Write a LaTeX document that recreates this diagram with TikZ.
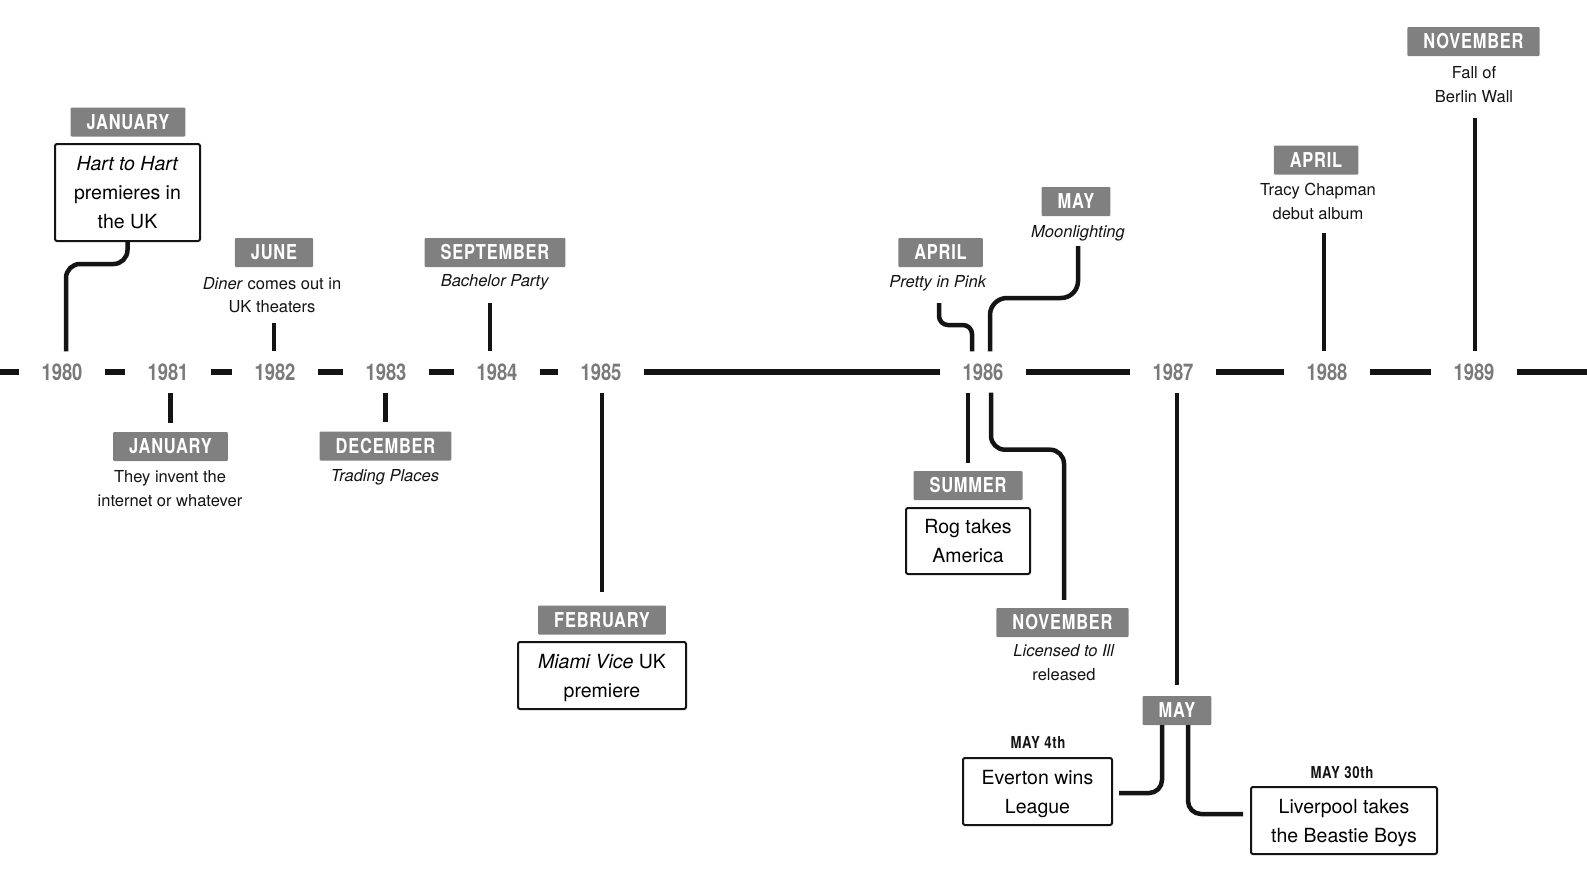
\documentclass[tikz,border=0pt]{standalone}
\usepackage{fontspec}
\setmainfont{TeX Gyre Heros}
\newfontfamily\labfont[FakeStretch=0.8,LetterSpace=4]{TeX Gyre Heros}
\newfontfamily\yrfont[FakeStretch=0.8]{TeX Gyre Heros}
\usetikzlibrary{calc}
\definecolor{labgray}{HTML}{808080}
\definecolor{yrgray}{HTML}{7A7A7A}
\definecolor{ink}{HTML}{141414}
\tikzset{
 yearnode/.style={font=\yrfont\bfseries\fontsize{23}{23}\selectfont, text=yrgray, inner xsep=22pt, inner ysep=0pt, minimum height=41pt},
 month/.style={fill=labgray, text=white, font=\labfont\bfseries\fontsize{20.5}{20.5}\selectfont, inner xsep=16pt, inner ysep=0pt, minimum height=29pt, rounded corners=1pt},
 evbox/.style={draw=ink, line width=2pt, rounded corners=2pt, align=center, font=\fontsize{19.5}{29}\selectfont, inner sep=0pt, text depth=0pt},
 evtext/.style={align=center, font=\fontsize{16.5}{23.5}\selectfont, inner sep=0pt, text=ink},
 sublab/.style={font=\labfont\bfseries\fontsize{16.5}{16.5}\selectfont, inner sep=0pt, text=ink},
 mainline/.style={draw=ink, line width=5.5pt},
 conn/.style={draw=ink, line width=4.5pt},
}
\begin{document}
\begin{tikzpicture}[x=1pt,y=-1pt]
\useasboundingbox (0,0) rectangle (1587,879);
\fill[white] (0,0) rectangle (1587,879);
% years
\node[yearnode] (y1980) at (62,372) {1980};
\node[yearnode] (y1981) at (168,372) {1981};
\node[yearnode] (y1982) at (275,372) {1982};
\node[yearnode] (y1983) at (386,372) {1983};
\node[yearnode] (y1984) at (497,372) {1984};
\node[yearnode] (y1985) at (601,372) {1985};
\node[yearnode] (y1986) at (983,372) {1986};
\node[yearnode] (y1987) at (1173,372) {1987};
\node[yearnode] (y1988) at (1327,372) {1988};
\node[yearnode] (y1989) at (1474,372) {1989};
\coordinate (lend) at (0,372);
\coordinate (rend) at (1587,372);
\draw[mainline] (lend) -- (y1980.west);
\draw[mainline] (y1980.east) -- (y1981.west);
\draw[mainline] (y1981.east) -- (y1982.west);
\draw[mainline] (y1982.east) -- (y1983.west);
\draw[mainline] (y1983.east) -- (y1984.west);
\draw[mainline] (y1984.east) -- (y1985.west);
\draw[mainline] (y1985.east) -- (y1986.west);
\draw[mainline] (y1986.east) -- (y1987.west);
\draw[mainline] (y1987.east) -- (y1988.west);
\draw[mainline] (y1988.east) -- (y1989.west);
\draw[mainline] (y1989.east) -- (rend);
% 1980
\node[month] (jan80) at (128,122) {JANUARY};
\node[evbox, minimum width=145pt, minimum height=97pt] (hart) at (127.5,192.5) {\textit{Hart to Hart}\\premieres in\\the UK};
\draw[conn, rounded corners=14pt] (hart.south) -- ++(0,22) -| ([xshift=4pt]y1980.north);
% 1981
\node[month] (jan81) at (170.5,446.5) {JANUARY};
\node[evtext] (jan81t) at (170,488.5) {They invent the\\internet or whatever};
\draw[conn, shorten <=9pt] (jan81.north) -- (jan81.north |- y1981.south);
% 1982
\node[month] (jun82) at (274,252.5) {JUNE};
\node[evtext] (jun82t) at (272,295) {\textit{Diner} comes out in\\UK theaters};
\coordinate (k82) at (274,323);
\draw[conn] (k82) -- (k82 |- y1982.north);
% 1983
\node[month] (dec83) at (385.5,446) {DECEMBER};
\node[evtext] (dec83t) at (385,477) {\textit{Trading Places}};
\draw[conn, shorten <=9pt] (dec83.north) -- (dec83.north |- y1983.south);
% 1984
\node[month] (sep84) at (495,252.5) {SEPTEMBER};
\node[evtext] (sep84t) at (495,282) {\textit{Bachelor Party}};
\coordinate (k84) at (490,303);
\draw[conn] (k84) -- (k84 |- y1984.north);
% 1985
\node[month] (feb85) at (602,620) {FEBRUARY};
\node[evbox, minimum width=168pt, minimum height=67pt] (miami) at (602,675.5) {\textit{Miami Vice} UK\\premiere};
\draw[conn, shorten <=13pt] (feb85.north) -- (feb85.north |- y1985.south);
% 1986
\node[month] (apr86) at (940.5,252.5) {APRIL};
\node[evtext] (apr86t) at (938,283) {\textit{Pretty in Pink}};
\coordinate (k86a) at (939,303);
\draw[conn, rounded corners=9pt] (k86a) -- ++(0,22) -| ([xshift=-11pt]y1986.north);
\node[month] (may86) at (1076,201.5) {MAY};
\node[evtext] (may86t) at (1078,233) {\textit{Moonlighting}};
\coordinate (k86b) at (1078,246);
\draw[conn, rounded corners=17pt] (k86b) -- ++(0,52) -| ([xshift=7pt]y1986.north);
\node[month] (sum86) at (968,485.5) {SUMMER};
\node[evbox, minimum width=124pt, minimum height=66pt] (rog) at (968,541) {Rog takes\\America};
\draw[conn, shorten <=8pt] (sum86.north) -- (sum86.north |- y1986.south);
\node[month] (nov86) at (1062.5,622.5) {NOVEMBER};
\node[evtext] (nov86t) at (1064,662.5) {\textit{Licensed to Ill}\\released};
\draw[conn, rounded corners=14pt, shorten >=8pt] ([xshift=8pt]y1986.south) -- ++(0,57) -| ([xshift=1.5pt]nov86.north);
% 1987
\node[month] (may87) at (1177,710.5) {MAY};
\draw[conn, shorten <=11pt] (may87.north) -- (may87.north |- y1987.south);
\node[sublab] (d4) at (1038,743) {MAY 4th};
\node[evbox, minimum width=149pt, minimum height=67pt] (everton) at (1037.5,791.5) {Everton wins\\League};
\node[sublab] (d30) at (1342,773) {MAY 30th};
\node[evbox, minimum width=186pt, minimum height=67pt] (lpool) at (1344,820.5) {Liverpool takes\\the Beastie Boys};
\draw[conn, rounded corners=13pt, shorten >=6pt] ([xshift=-15pt]may87.south) |- ([yshift=-1.5pt]everton.east);
\draw[conn, rounded corners=13pt, shorten >=7pt] ([xshift=11pt]may87.south) |- ([yshift=6.5pt]lpool.west);
% 1988
\node[month] (apr88) at (1316,160) {APRIL};
\node[evtext] (apr88t) at (1318,201.5) {Tracy Chapman\\debut album};
\coordinate (k88) at (1324,233);
\draw[conn] (k88) -- (k88 |- y1988.north);
% 1989
\node[month] (nov89) at (1473.5,41.5) {NOVEMBER};
\node[evtext] (nov89t) at (1474,84.5) {Fall of\\Berlin Wall};
\coordinate (k89) at (1475,118);
\draw[conn] (k89) -- (k89 |- y1989.north);
\end{tikzpicture}
\end{document}
